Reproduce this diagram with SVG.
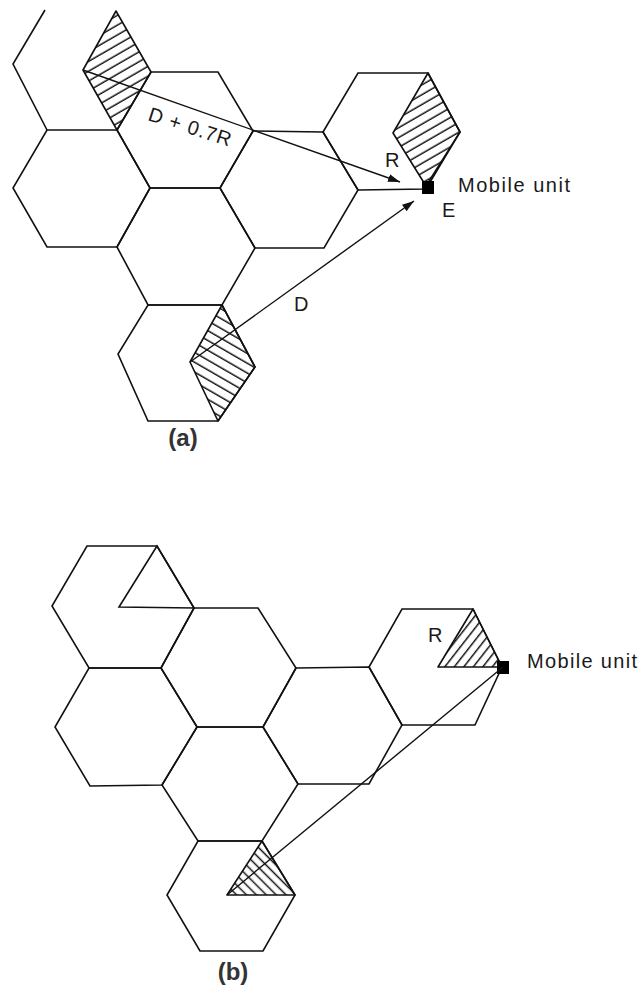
<svg xmlns="http://www.w3.org/2000/svg" width="638" height="988" viewBox="0 0 638 988">
<defs>
<style>
.cell{fill:none;stroke:#111;stroke-width:1.6;stroke-linejoin:miter}
.sec{stroke:#111;stroke-width:1.6;stroke-linejoin:round}
.link{fill:none;stroke:#111;stroke-width:1.4}
.lbl{font-family:"Liberation Sans",Arial,Helvetica,sans-serif;font-size:20px;fill:#1a1a1a}
.cap{font-family:"Liberation Sans",Arial,Helvetica,sans-serif;font-size:24px;font-weight:bold;fill:#333;text-anchor:middle}
.mu{fill:#000}
</style>
<pattern id="hA1" patternUnits="userSpaceOnUse" width="10" height="8.5" patternTransform="rotate(-30)"><line x1="0" y1="4" x2="10" y2="4" stroke="#111" stroke-width="1.5"/></pattern>
<pattern id="hA2" patternUnits="userSpaceOnUse" width="10" height="8.5" patternTransform="rotate(30)"><line x1="0" y1="4" x2="10" y2="4" stroke="#111" stroke-width="1.5"/></pattern>
<pattern id="hB1" patternUnits="userSpaceOnUse" width="10" height="7.5" patternTransform="rotate(-52)"><line x1="0" y1="3.5" x2="10" y2="3.5" stroke="#111" stroke-width="1.5"/></pattern>
<pattern id="hB2" patternUnits="userSpaceOnUse" width="10" height="7" patternTransform="rotate(45)"><line x1="0" y1="3.5" x2="10" y2="3.5" stroke="#111" stroke-width="1.5"/></pattern>
<marker id="arr" markerUnits="userSpaceOnUse" viewBox="0 0 12 8" refX="12" refY="4" markerWidth="12" markerHeight="8" orient="auto"><path d="M0,0 L12,4 L0,8 z" fill="#111"/></marker>
</defs>
<rect width="638" height="988" fill="#fff"/>

<!-- (a) -->
<g id="a-cell-topleft">
<polyline class="cell" points="45,10 13,64 47,130"/>
<polygon class="sec" fill="url(#hA1)" points="83,70 116,11 151,72 117,130"/>
</g>
<g id="a-cell-top"><polygon class="cell" points="117,130 151,72 218,72 253,131 220,188 150,188"/></g>
<g id="a-cell-left"><polygon class="cell" points="47,130 117,130 150,188 117,247 47,247 13,188"/></g>
<g id="a-cell-center"><polygon class="cell" points="117,247 150,188 220,188 255,248 222,305 148,305"/></g>
<g id="a-cell-right"><polygon class="cell" points="253,131 323,132 358,190 324,248 255,248 220,188"/></g>
<g id="a-cell-topright">
<polygon class="cell" points="323,132 358,73 428,73 460,132 426,189 358,190"/>
<polygon class="sec" fill="url(#hA1)" points="393,133 428,73 460,132 426,186"/>
</g>
<g id="a-cell-bottom">
<polygon class="cell" points="148,305 222,305 255,367 218,421 148,421 118,354"/>
<polygon class="sec" fill="url(#hA2)" points="190,362 222,305 255,367 218,421"/>
</g>
<g id="a-mobile">
<rect class="mu" x="422" y="181" width="12" height="13"/>
<text class="lbl" x="458" y="192" font-size="21" textLength="112" lengthAdjust="spacing">Mobile unit</text>
<text class="lbl" x="442" y="217" font-size="21">E</text>
</g>

<!-- (b) -->
<g id="b-cell-topleft">
<polygon class="cell" points="87,546 157,546 194,608 161,668 89,668 52,606"/>
<polygon class="cell" points="157,546 119,607 194,608"/>
</g>
<g id="b-cell-2"><polygon class="cell" points="194,608 258,608 296,668 263,727 197,727 161,668"/></g>
<g id="b-cell-3"><polygon class="cell" points="89,668 161,668 197,727 162,785 90,786 55,727"/></g>
<g id="b-cell-4"><polygon class="cell" points="197,727 263,727 298,784 262,841 198,841 162,785"/></g>
<g id="b-cell-5"><polygon class="cell" points="296,668 369,667 402,725 369,784 298,784 263,727"/></g>
<g id="b-cell-topright">
<polygon class="cell" points="402,609 473,609 502,667 475,725 402,725 369,667"/>
<polygon class="sec" fill="url(#hB1)" points="473,609 438,667 502,667"/>
</g>
<g id="b-cell-bottom">
<polygon class="cell" points="198,841 262,841 295,895 263,951 200,951 167,895"/>
<polygon class="sec" fill="url(#hB2)" points="262,841 227,895 295,895"/>
</g>
<g id="b-mobile">
<rect class="mu" x="497" y="661" width="12" height="13"/>
<text class="lbl" x="527" y="668" font-size="21" textLength="110" lengthAdjust="spacing">Mobile unit</text>
</g>

<g id="connectors">
<line class="link" x1="83" y1="70" x2="400" y2="182" marker-end="url(#arr)"/>
<line class="link" x1="190" y1="362" x2="414" y2="201" marker-end="url(#arr)"/>
<line class="link" x1="503" y1="667" x2="227" y2="895"/>
</g>

<g id="labels">
<text class="lbl" x="147" y="120" font-size="21" textLength="86" lengthAdjust="spacing" transform="rotate(18 147 120)">D + 0.7R</text>
<text class="lbl" x="385" y="167">R</text>
<text class="lbl" x="294" y="311">D</text>
<text class="lbl" x="428" y="642">R</text>
<text class="cap" x="183" y="446">(a)</text>
<text class="cap" x="233" y="980">(b)</text>
</g>
</svg>
